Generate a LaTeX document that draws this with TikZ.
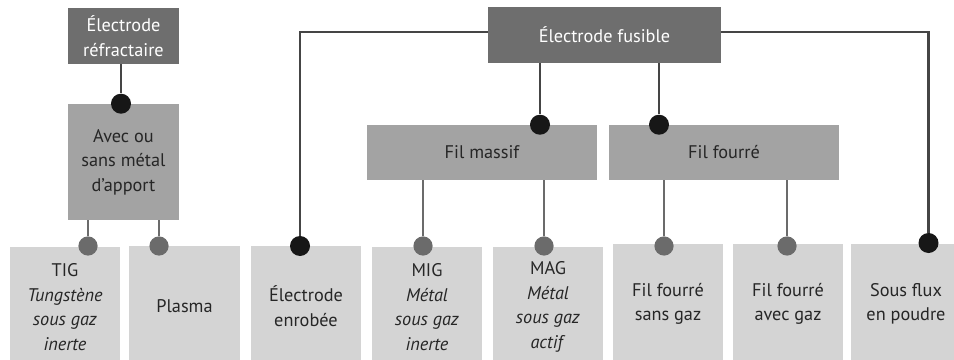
\documentclass[tikz,border=0pt]{standalone}
\usepackage{fontspec}
\setmainfont{PT Sans}
\usepackage{tikz}
\usetikzlibrary{positioning}
\definecolor{mdark}{gray}{0.43}
\definecolor{mmid}{gray}{0.64}
\definecolor{mlight}{gray}{0.83}
\definecolor{mblack}{gray}{0.09}
\definecolor{mgray}{gray}{0.42}
\tikzset{box/.style = {inner sep = 0, align = center, font = \fontsize{13}{17.5}\selectfont}}
\tikzset{topbox/.style = {box, fill = mdark, text = white}}
\tikzset{midbox/.style = {box, fill = mmid, text = black!85}}
\tikzset{leaf/.style = {box, fill = mlight, text = black!85, minimum width = 2.76cm, minimum height = 3cm}}
\tikzset{bdot/.style = {fill = mblack, circle, inner sep = 0, minimum size = 0.5cm}}
\tikzset{gdot/.style = {fill = mgray, circle, inner sep = 0, minimum size = 0.48cm}}
\tikzset{bline/.style = {draw = mblack!80, line width = 2.1pt}}
\tikzset{gline/.style = {draw = mgray, line width = 1.8pt}}

\begin{document}
\begin{tikzpicture}[x = 0.025cm, y = -0.025cm]
    \useasboundingbox (0,0) rectangle (954,360);

    % boites du haut
    \node[topbox, minimum width = 2.775cm, minimum height = 1.4cm] (refr) at (123.5,36) {Électrode\\réfractaire};
    \node[midbox, minimum width = 2.775cm, minimum height = 2.9cm] (avec) at (123.5,162) {Avec ou\\sans métal\\d'apport};
    \node[topbox, minimum width = 5.825cm, minimum height = 1.4cm] (fusible) at (604.5,35) {Électrode fusible};
    \node[midbox, minimum width = 5.75cm, minimum height = 1.375cm] (massif) at (482,152.5) {Fil massif};
    \node[midbox, minimum width = 5.75cm, minimum height = 1.375cm] (fourre) at (724,152.5) {Fil fourré};

    % procedes
    \node[leaf] (tig) at (65,307) {TIG\\\textit{Tungstène}\\\textit{sous gaz}\\\textit{inerte}};
    \node[leaf] (plasma) at (184.5,306) {Plasma};
    \node[leaf] (enrobee) at (306,306) {Électrode\\enrobée};
    \node[leaf] (mig) at (427,307) {MIG\\\textit{Métal}\\\textit{sous gaz}\\\textit{inerte}};
    \node[leaf] (mag) at (548,307) {MAG\\\textit{Métal}\\\textit{sous gaz}\\\textit{actif}};
    \node[leaf] (sansgaz) at (668,304) {Fil fourré\\sans gaz};
    \node[leaf] (avecgaz) at (788,304) {Fil fourré\\avec gaz};
    \node[leaf] (flux) at (906,304) {Sous flux\\en poudre};

    % points d'attache
    \node[bdot] (davec) at (avec.north -| 121,0) {};
    \node[bdot] (dmassif) at (massif.north -| 540,0) {};
    \node[bdot] (dfourre) at (fourre.north -| 659,0) {};
    \node[bdot] (denrobee) at (300,246) {};
    \node[bdot] (dflux) at (928.5,243) {};
    \node[gdot] (dtig) at (88,246) {};
    \node[gdot] (dplasma) at (159,246) {};
    \node[gdot] (dmig) at (423,246) {};
    \node[gdot] (dmag) at (544,246) {};
    \node[gdot] (dsansgaz) at (664,246) {};
    \node[gdot] (davecgaz) at (787,246) {};

    \draw[bline] (refr.south -| davec) -- (davec.north);
    \draw[bline] (fusible.south -| dmassif) -- (dmassif.north);
    \draw[bline] (fusible.south -| dfourre) -- (dfourre.north);
    \draw[bline] (fusible.west |- 0,32) -| (denrobee.north);
    \draw[bline] (fusible.east |- 0,32) -| (dflux.north);
    \draw[gline] (avec.south -| dtig) -- (dtig.north);
    \draw[gline] (avec.south -| dplasma) -- (dplasma.north);
    \draw[gline] (massif.south -| dmig) -- (dmig.north);
    \draw[gline] (massif.south -| dmag) -- (dmag.north);
    \draw[gline] (fourre.south -| dsansgaz) -- (dsansgaz.north);
    \draw[gline] (fourre.south -| davecgaz) -- (davecgaz.north);
\end{tikzpicture}
\end{document}
